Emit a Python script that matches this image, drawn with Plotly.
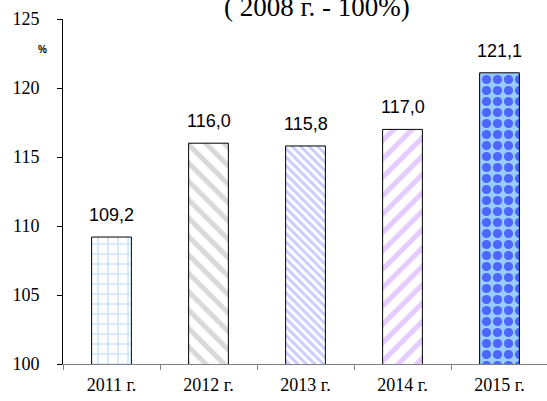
import plotly.graph_objects as go

categories = ["2011 г.", "2012 г.", "2013 г.", "2014 г.", "2015 г."]
values = [109.2, 116.0, 115.8, 117.0, 121.1]
value_labels = ["109,2", "116,0", "115,8", "117,0", "121,1"]
y_ticks = [100, 105, 110, 115, 120, 125]

shapes = ["+", "\\", "\\", "/", "."]
fg_colors = ["#99CCFF", "#B4B4B4", "#9999FF", "#CC99FF", "#0000FF"]
bg_colors = ["#FFFFFF", "#FFFFFF", "#FFFFFF", "#FFFFFF", "#99CCFF"]
sizes = [10, 13, 6, 13, 11]
solidities = [0.3, 0.4, 0.5, 0.4, 0.55]

serif = "Liberation Serif"
sans = "Liberation Sans"

fig = go.Figure()
for i, (c, v) in enumerate(zip(categories, values)):
    fig.add_trace(go.Bar(
        x=[c], y=[v], base=0,
        marker=dict(
            color=bg_colors[i],
            line=dict(color="black", width=1),
            pattern=dict(shape=shapes[i], fgcolor=fg_colors[i], bgcolor=bg_colors[i],
                         size=sizes[i], solidity=solidities[i], fillmode="overlay"),
        ),
        showlegend=False,
        hoverinfo="skip",
    ))

for c, v, t in zip(categories, values, value_labels):
    fig.add_annotation(x=c, y=v, text=t, showarrow=False, yanchor="bottom", yshift=10,
                       font=dict(family=sans, size=18, color="black"))

fig.add_annotation(xref="paper", yref="y", x=-0.055, y=122.8, text="<b>%</b>", showarrow=False,
                   font=dict(family=sans, size=10, color="black"))
fig.add_annotation(xref="paper", yref="paper", x=0.523, y=1.035, text="( 2008 г. - 100%)",
                   showarrow=False, yanchor="middle",
                   font=dict(family=serif, size=27, color="black"))

fig.update_layout(
    width=548, height=401,
    margin=dict(l=63, r=0, t=19, b=37, autoexpand=False),
    plot_bgcolor="white", paper_bgcolor="white",
    barmode="overlay", bargap=0.59,
    font=dict(family=serif, size=17, color="black"),
)
fig.update_xaxes(
    showline=True, linecolor="#808080", linewidth=1,
    ticks="outside", tickson="boundaries", ticklen=5, tickcolor="#808080",
    showgrid=False, categoryorder="array", categoryarray=categories,
    tickfont=dict(family=serif, size=18, color="black"), ticklabelstandoff=4, automargin=False,
)
fig.update_yaxes(
    range=[100, 125], tickvals=y_ticks, showline=True, linecolor="black", linewidth=1,
    ticks="outside", ticklen=5, tickcolor="black", showgrid=False, zeroline=False,
    tickfont=dict(family=serif, size=18, color="black"), ticklabelstandoff=14, automargin=False,
)

fig.write_html("out.html", config={"displayModeBar": False},
               post_script="document.body.style.margin='0';document.body.style.overflow='hidden';")
